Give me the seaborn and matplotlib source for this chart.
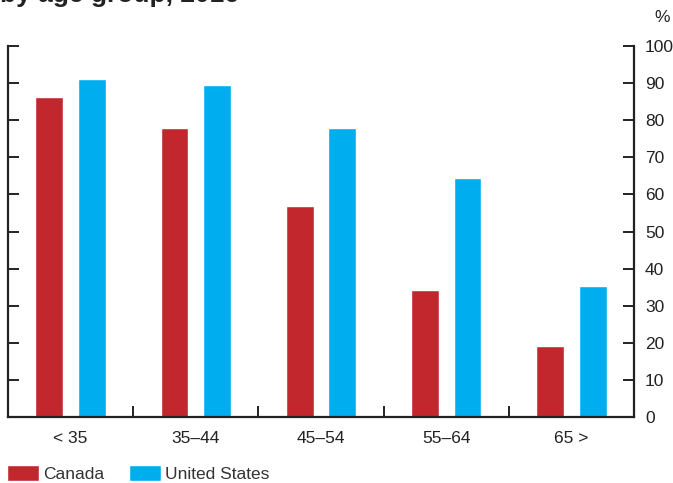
import numpy as np
import pandas as pd
import seaborn as sns
import matplotlib.pyplot as plt
from matplotlib.patches import Patch

age_groups = ["< 35", "35\u201344", "45\u201354", "55\u201364", "65 >"]
canada = [86.3, 77.9, 56.9, 34.2, 19.1]
united_states = [91.1, 89.5, 77.9, 64.4, 35.3]
countries = ["Canada", "United States"]
colors = ["#C1272D", "#00AEEF"]

df = pd.DataFrame({
    "age": age_groups * 2,
    "value": canada + united_states,
    "country": [countries[0]] * 5 + [countries[1]] * 5,
})

sns.set_style("white")
plt.rcParams["font.family"] = ["Liberation Sans", "DejaVu Sans"]

fig = plt.figure(figsize=(6.73, 4.83), dpi=100)
ax = fig.add_axes([8 / 673, 66 / 483, 626 / 673, 371 / 483])

sns.barplot(data=df, x="age", y="value", hue="country", palette=colors,
            width=0.68, gap=0.35, saturation=1, legend=False, ax=ax)

ax.set_xlim(-0.5, 4.5)
ax.set_ylim(0, 100)
ax.set_yticks(np.arange(0, 101, 10))
ax.set_xlabel("")
ax.set_ylabel("")

for side in ["left", "right", "bottom"]:
    ax.spines[side].set_visible(True)
    ax.spines[side].set_color("#222222")
    ax.spines[side].set_linewidth(1.6)
ax.spines["top"].set_visible(False)

ax.tick_params(axis="y", left=True, right=True, labelleft=False, labelright=True,
               direction="in", length=8, width=1.4, color="#222222",
               labelsize=12.5, labelcolor="#222222", pad=8)
ax.tick_params(axis="x", which="major", length=0, labelsize=12.5,
               labelcolor="#222222", pad=10)
ax.set_xticks(np.arange(0.5, 4.5, 1), minor=True)
ax.tick_params(axis="x", which="minor", direction="in", length=8, width=1.4,
               color="#222222", bottom=True)

fig.text(662 / 673, 1 - 18 / 483, "%", fontsize=12.5, color="#222222",
         ha="center", va="center")
# title is clipped at the top edge, as in the source
fig.text(0.0, 0.996, "by age group, 2016", fontsize=19, fontweight="bold",
         color="#222222", ha="left", va="baseline")

handles = [Patch(facecolor=c, label=l) for c, l in zip(colors, countries)]
fig.legend(handles=handles, loc="lower left", bbox_to_anchor=(0.0, -0.012),
           ncol=2, frameon=False, fontsize=12.5, handlelength=1.85,
           handleheight=1.0, handletextpad=0.25, columnspacing=1.4,
           borderaxespad=0, labelcolor="#333333")

fig.savefig("out.png", dpi=100)
